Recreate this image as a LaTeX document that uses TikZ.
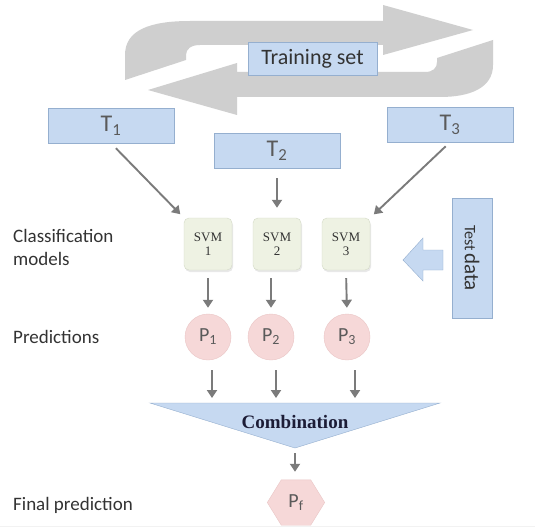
\documentclass[tikz,border=0pt]{standalone}
\usepackage{fontspec}
\setmainfont{Carlito}
\newfontfamily\seriffam{Liberation Serif}
\usetikzlibrary{arrows.meta,shadows}
\definecolor{boxblue}{HTML}{C6D9F1}
\definecolor{boxborder}{HTML}{95AFCF}
\definecolor{biggray}{HTML}{CFCFCF}
\definecolor{svmfill}{HTML}{EEF2E3}
\definecolor{svmborder}{HTML}{D3DAC6}
\definecolor{pfill}{HTML}{F6D8D8}
\definecolor{pborder}{HTML}{EAC6C6}
\definecolor{conncol}{HTML}{7B7B7B}
\definecolor{labtext}{HTML}{333333}
\definecolor{ttext}{HTML}{5A5A5A}
\definecolor{combtext}{HTML}{1C1C36}
\tikzset{
  tbox/.style={draw=boxborder, fill=boxblue, minimum width=126pt, minimum height=35pt, inner sep=0pt,
    font=\fontsize{24}{28}\selectfont, text=ttext},
  svmbox/.style={draw=svmborder, fill=svmfill, rounded corners=5pt, minimum width=48pt, minimum height=52pt,
    inner sep=0pt, align=center, font=\seriffam\fontsize{13}{14}\selectfont, text=labtext,
    drop shadow={opacity=0.18, shadow xshift=1pt, shadow yshift=-2pt}},
  pcirc/.style={circle, draw=pborder, fill=pfill, minimum size=46pt, inner sep=0pt,
    font=\fontsize{20}{22}\selectfont, text=ttext},
  conn/.style={draw=conncol, line width=1.9pt, -{Triangle[length=8pt,width=10pt]}},
  lab/.style={anchor=west, font=\fontsize{19}{23}\selectfont, text=labtext, align=left, inner sep=0pt},
  bigarrow/.style={fill=biggray, draw=none},
  blueshape/.style={draw=boxborder, fill=boxblue}
}
\begin{document}
\begin{tikzpicture}[x=1pt,y=-1pt]
\useasboundingbox[fill=white] (0,0) rectangle (535,532);
% faint slide edge
\draw[black!5, line width=1pt] (0,526) -- (535,526);
% big circular arrows
\path[bigarrow] (125,80) -- (125,55) .. controls (125,30) and (150,21) .. (190,21) -- (383,21) -- (383,5)
  -- (473,30) -- (383,55) -- (383,45) -- (200,45) .. controls (191,45) and (186,49) .. (186,55) -- (186,60) -- cycle;
\path[bigarrow] (493,40) -- (493,65) .. controls (493,88) and (470,97) .. (440,97) -- (237,97) -- (237,115)
  -- (148,90) -- (237,63) -- (237,72) -- (425,72) .. controls (433,72) and (437,68) .. (437,62) -- (437,58) -- cycle;
\node[draw=boxborder, fill=boxblue, minimum width=129pt, minimum height=33pt, inner sep=0pt,
  font=\fontsize{22}{26}\selectfont, text=labtext] (train) at (312.5,58.5) {Training set};
% T boxes
\node[tbox] (T1) at (111,125.5) {T\textsubscript{1}};
\node[tbox] (T2) at (277,150.5) {T\textsubscript{2}};
\node[tbox] (T3) at (450,124.5) {T\textsubscript{3}};
% SVMs
\node[svmbox] (S1) at (208,244) {SVM\\1};
\node[svmbox] (S2) at (277,244) {SVM\\2};
\node[svmbox] (S3) at (346,244) {SVM\\3};
% predictions
\node[pcirc] (P1) at (208,337) {P\textsubscript{1}};
\node[pcirc] (P2) at (271,337) {P\textsubscript{2}};
\node[pcirc] (P3) at (347,337) {P\textsubscript{3}};
% test data
\node[blueshape, rotate=-90, minimum width=120pt, minimum height=40pt, inner sep=0pt, text=labtext] (test) at (472,258)
  {{\fontsize{16}{18}\selectfont Test} {\fontsize{21}{24}\selectfont data}};
\path[blueshape] (443,250) -- (423,250) -- (423,238) -- (403,260) -- (423,281) -- (423,270) -- (443,270) -- cycle;
% combination
\path[blueshape] (150,403) -- (440,403) -- (295,448) -- cycle;
\node[font=\seriffam\bfseries\fontsize{19}{22}\selectfont, text=combtext] (comb) at (295,422) {Combination};
\coordinate (apex) at (295,448);
\coordinate (k1) at (212,403);
\coordinate (k2) at (276,403);
\coordinate (k3) at (355,403);
% final
\node[minimum width=57pt, minimum height=45pt, inner sep=0pt] (Pf) at (296,502.5) {};
\path[draw=pborder, fill=pfill] (Pf.west) -- ([xshift=14pt]Pf.north west) -- ([xshift=-14pt]Pf.north east) -- (Pf.east)
  -- ([xshift=-14pt]Pf.south east) -- ([xshift=14pt]Pf.south west) -- cycle;
\node[font=\fontsize{20}{22}\selectfont, text=ttext] (Pftext) at (Pf) {P\textsubscript{f}};
% labels
\node[lab] (lclass) at (13,247) {Classification\\models};
\node[lab] (lpred) at (13,337) {Predictions};
\node[lab] (lfinal) at (13,505) {Final prediction};
% connectors
\draw[conn, shorten <=7pt, shorten >=5pt] (T1.south) -- (S1.north west);
\draw[conn, shorten <=10pt, shorten >=10pt] (T2.south) -- (S2.north);
\draw[conn, shorten <=6pt, shorten >=5pt] (T3.south) -- (S3.north east);
\draw[conn, shorten <=8pt, shorten >=6pt] (S1.south) -- (P1.north);
\draw[conn, shorten <=8pt, shorten >=6pt] (S2.south -| P2) -- (P2.north);
\draw[conn, shorten <=8pt, shorten >=6pt] (S3.south) -- (P3.north);
\draw[conn, shorten <=10pt, shorten >=5pt] (k1 |- P1.south) -- (k1);
\draw[conn, shorten <=10pt, shorten >=5pt] (k2 |- P2.south) -- (k2);
\draw[conn, shorten <=10pt, shorten >=5pt] (k3 |- P3.south) -- (k3);
\draw[conn, shorten <=5pt, shorten >=8pt] (apex) -- (apex |- Pf.north);
\end{tikzpicture}
\end{document}
